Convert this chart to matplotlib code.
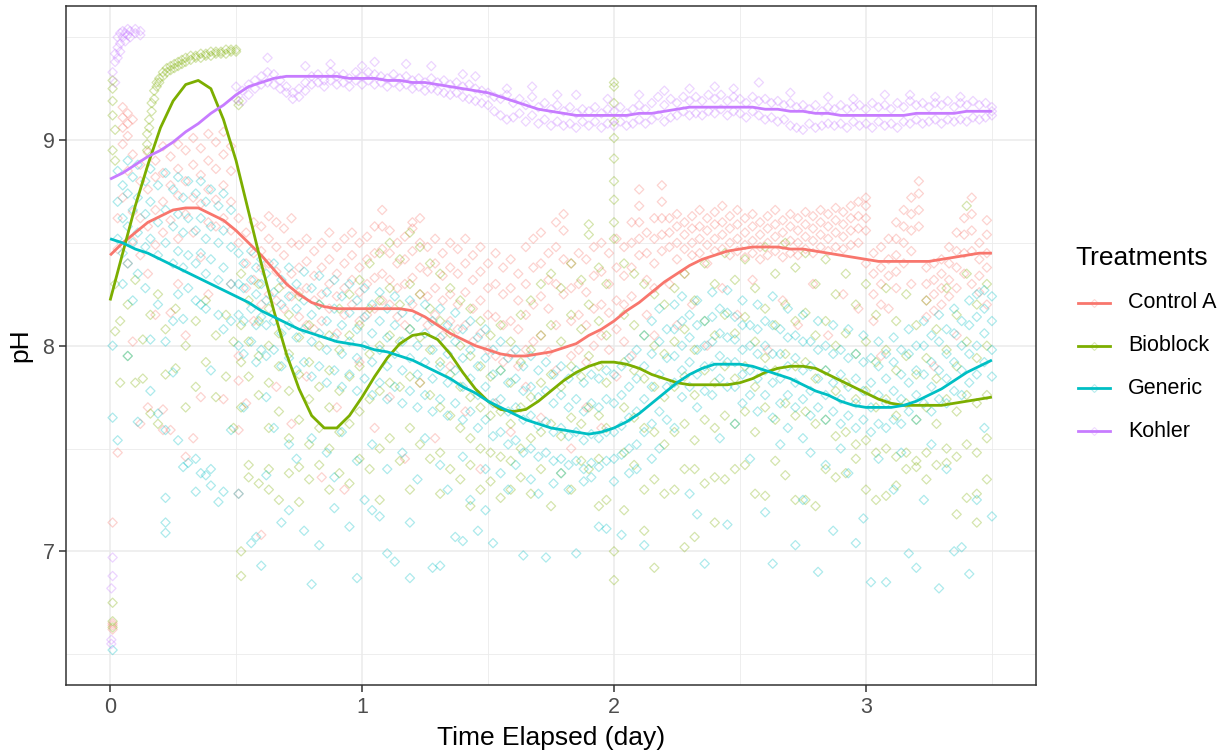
import numpy as np
import matplotlib
matplotlib.use("Agg")
import matplotlib.pyplot as plt
from matplotlib.lines import Line2D
from matplotlib.colors import to_rgba

plt.rcParams['font.family'] = ['Liberation Sans', 'DejaVu Sans']

treatments = ["Control A", "Bioblock", "Generic", "Kohler"]
colors = ["#F8766D", "#7CAE00", "#00BFC4", "#C77CFF"]

x_ticks = [0, 1, 2, 3]
y_ticks = [7, 8, 9]

# ---- raw sensor readings: (time in days, pH readings logged at that time ...) ----
ctrl_obs = [
    (0.01, 7.14, 6.62, 6.65, 6.64), (0.03, 8.62, 8.47, 7.48),
    (0.05, 9.16, 9.11, 9.06, 8.98, 8.72), (0.07, 9.13, 9.08, 9.02, 8.85, 8.40),
    (0.09, 9.10, 8.93, 8.65, 8.51, 8.02), (0.12, 8.88, 8.80, 8.62, 8.44, 7.62),
    (0.15, 8.94, 8.76, 8.58, 8.35, 7.70), (0.18, 8.90, 8.82, 8.66, 8.49, 8.15),
    (0.21, 8.97, 8.84, 8.70, 8.55, 7.69, 7.59), (0.24, 8.92, 8.78, 8.61, 8.16, 7.59),
    (0.27, 8.98, 8.86, 8.73, 8.52, 8.30), (0.30, 8.95, 8.80, 8.64, 8.05, 7.46),
    (0.33, 9.01, 8.88, 8.72, 8.55, 7.55), (0.36, 8.96, 8.83, 8.69, 8.43, 7.75),
    (0.39, 9.03, 8.90, 8.76, 8.60, 8.25), (0.42, 8.99, 8.86, 8.71, 8.58),
    (0.45, 9.04, 8.93, 8.78, 8.62, 7.74), (0.48, 8.97, 8.85, 8.70, 8.56, 8.30),
    (0.51, 8.62, 8.50, 7.95, 7.83, 7.59, 7.28), (0.54, 8.55, 8.40, 8.28, 7.72),
    (0.57, 8.60, 8.45, 8.32, 8.12), (0.60, 8.58, 8.46, 8.38, 8.20, 7.08),
    (0.63, 8.63, 8.52, 8.40, 8.25), (0.66, 8.60, 8.48, 8.36, 8.22, 7.80),
    (0.69, 8.57, 8.44, 8.30, 8.18), (0.72, 8.62, 8.50, 8.35, 8.24, 7.62),
    (0.75, 8.49, 8.38, 8.26, 8.14), (0.78, 8.52, 8.41, 8.28, 8.10, 7.85),
    (0.81, 8.46, 8.34, 8.22, 8.08), (0.84, 8.50, 8.38, 8.25, 8.12, 7.36),
    (0.87, 8.55, 8.42, 8.30, 8.18), (0.90, 8.48, 8.35, 8.24, 8.06, 7.70),
    (0.93, 8.52, 8.40, 8.28, 8.15, 7.30), (0.96, 8.55, 8.44, 8.32, 8.20),
    (0.99, 8.50, 8.38, 8.26, 8.12, 7.92), (1.02, 8.53, 8.42, 8.30, 8.15),
    (1.05, 8.58, 8.45, 8.33, 8.18, 7.60), (1.08, 8.66, 8.58, 8.47, 8.35, 8.22),
    (1.11, 8.56, 8.45, 8.32, 8.20, 7.75), (1.14, 8.50, 8.40, 8.28, 8.14),
    (1.17, 8.53, 8.42, 8.30, 8.10, 7.45), (1.20, 8.60, 8.57, 8.46, 8.33, 8.20),
    (1.23, 8.62, 8.50, 8.38, 8.25, 7.82), (1.26, 8.48, 8.36, 8.24, 8.10),
    (1.29, 8.52, 8.40, 8.28, 8.15, 7.55), (1.32, 8.45, 8.34, 8.22, 8.05),
    (1.35, 8.50, 8.38, 8.25, 8.12, 7.90), (1.38, 8.47, 8.35, 8.20, 8.08),
    (1.41, 8.52, 8.40, 8.26, 8.10, 7.68), (1.44, 8.44, 8.32, 8.18, 8.02),
    (1.47, 8.48, 8.36, 8.22, 8.06, 7.40), (1.50, 8.40, 8.28, 8.15, 7.98),
    (1.53, 8.45, 8.30, 8.14, 7.95, 7.72), (1.56, 8.38, 8.25, 8.10, 7.92),
    (1.59, 8.42, 8.28, 8.12, 7.96, 7.58), (1.62, 8.35, 8.22, 8.08, 7.90),
    (1.65, 8.48, 8.30, 8.15, 7.98, 7.80), (1.68, 8.52, 8.38, 8.20, 8.02),
    (1.71, 8.55, 8.40, 8.24, 8.05, 7.65), (1.74, 8.45, 8.32, 8.18, 7.97),
    (1.77, 8.60, 8.48, 8.30, 8.10, 7.88), (1.80, 8.64, 8.56, 8.42, 8.25),
    (1.83, 8.40, 8.28, 8.12, 7.95, 7.50), (1.86, 8.45, 8.30, 8.15, 7.98),
    (1.89, 8.42, 8.26, 8.10, 7.92, 7.70), (1.92, 8.48, 8.34, 8.18, 8.00),
    (1.95, 8.50, 8.36, 8.20, 8.05, 7.60), (1.98, 8.45, 8.30, 8.16, 7.98),
    (2.01, 8.52, 8.38, 8.22, 8.08, 7.85), (2.04, 8.48, 8.34, 8.20, 8.02),
    (2.07, 8.60, 8.50, 8.38, 8.24, 7.95), (2.10, 8.76, 8.68, 8.60, 8.52, 8.44),
    (2.13, 8.55, 8.45, 8.32, 8.15), (2.16, 8.62, 8.52, 8.40, 8.28, 8.05),
    (2.19, 8.78, 8.70, 8.62, 8.54, 8.46), (2.22, 8.62, 8.55, 8.48, 8.30),
    (2.25, 8.64, 8.58, 8.50, 8.42, 8.10), (2.28, 8.60, 8.54, 8.47, 8.35),
    (2.31, 8.63, 8.57, 8.50, 8.44, 8.20), (2.34, 8.66, 8.58, 8.52, 8.45),
    (2.37, 8.62, 8.56, 8.49, 8.40, 8.00), (2.40, 8.65, 8.59, 8.52, 8.46),
    (2.43, 8.68, 8.60, 8.54, 8.47, 8.28), (2.46, 8.63, 8.57, 8.50, 8.44),
    (2.49, 8.66, 8.59, 8.52, 8.46, 8.15), (2.52, 8.62, 8.55, 8.49, 8.43),
    (2.55, 8.64, 8.58, 8.51, 8.45, 8.32), (2.58, 8.60, 8.54, 8.48, 8.42),
    (2.61, 8.63, 8.57, 8.50, 8.44, 7.98), (2.64, 8.66, 8.59, 8.53, 8.46),
    (2.67, 8.61, 8.55, 8.49, 8.43, 8.22), (2.70, 8.64, 8.58, 8.51, 8.45),
    (2.73, 8.62, 8.56, 8.50, 8.44, 8.10), (2.76, 8.65, 8.59, 8.53, 8.47),
    (2.79, 8.63, 8.57, 8.51, 8.45, 8.30), (2.82, 8.66, 8.60, 8.54, 8.48),
    (2.85, 8.64, 8.58, 8.52, 8.46, 8.05), (2.88, 8.67, 8.61, 8.55, 8.48),
    (2.91, 8.65, 8.59, 8.53, 8.47, 8.25), (2.94, 8.68, 8.62, 8.56, 8.49),
    (2.97, 8.70, 8.63, 8.57, 8.50, 8.18), (3.00, 8.72, 8.68, 8.62, 8.56, 8.40),
    (3.03, 8.45, 8.35, 8.25, 8.12), (3.06, 8.48, 8.38, 8.30, 8.20, 7.95),
    (3.09, 8.52, 8.42, 8.34, 8.18), (3.12, 8.60, 8.52, 8.44, 8.36, 8.28),
    (3.15, 8.66, 8.58, 8.50, 8.40), (3.18, 8.72, 8.64, 8.56, 8.46, 8.30),
    (3.21, 8.80, 8.74, 8.66, 8.58), (3.24, 8.38, 8.30, 8.22, 8.14),
    (3.27, 8.40, 8.32, 8.25, 8.17, 7.90), (3.30, 8.42, 8.35, 8.28, 8.20),
    (3.33, 8.48, 8.40, 8.32, 8.24), (3.36, 8.55, 8.46, 8.38, 8.28, 8.05),
    (3.39, 8.62, 8.54, 8.45, 8.35), (3.42, 8.72, 8.64, 8.56, 8.46, 8.30),
    (3.45, 8.50, 8.42, 8.34, 8.26), (3.48, 8.61, 8.54, 8.45, 8.38, 8.20),
]

bio_obs = [
    (0.01, 6.63, 6.66, 6.75, 9.29, 9.25, 9.19, 9.12, 8.95), (0.02, 9.05, 8.90, 8.30, 8.07),
    (0.04, 8.12, 7.82), (0.07, 8.20, 7.95), (0.10, 8.32, 7.82), (0.13, 8.03, 7.84),
    (0.147, 9.03, 8.98, 8.95), (0.155, 9.10, 9.06), (0.16, 8.15, 7.67),
    (0.165, 9.18, 9.14), (0.175, 9.24, 9.20), (0.185, 9.28, 9.26), (0.19, 8.25, 7.62),
    (0.195, 9.30, 9.28), (0.21, 9.33, 9.31), (0.22, 8.08, 7.86), (0.225, 9.35, 9.33),
    (0.24, 9.36, 9.34), (0.255, 9.37, 9.35), (0.26, 8.18, 7.89), (0.27, 9.38, 9.36),
    (0.285, 9.39, 9.37), (0.30, 9.40, 9.38, 8.00, 7.70), (0.32, 9.41, 9.39),
    (0.34, 9.41, 9.40, 8.12, 7.80), (0.36, 9.42, 9.40), (0.38, 9.42, 9.41, 8.22, 7.92),
    (0.40, 9.43, 9.41), (0.42, 9.43, 9.42, 8.05, 7.75), (0.44, 9.43, 9.42),
    (0.46, 9.44, 9.42, 8.15, 7.85), (0.48, 9.44, 9.43), (0.49, 8.02, 7.60),
    (0.50, 9.44, 9.43), (0.51, 9.19, 9.17),
    (0.52, 8.35, 8.10, 7.92, 7.70, 7.00, 6.88), (0.55, 8.22, 8.02, 7.85, 7.42, 7.36),
    (0.59, 8.30, 8.12, 7.95, 7.76, 7.33), (0.63, 8.18, 8.00, 7.82, 7.60, 7.40, 7.30),
    (0.67, 8.28, 8.06, 7.90, 7.68, 7.25), (0.71, 8.15, 7.96, 7.78, 7.55, 7.38),
    (0.75, 8.24, 8.04, 7.86, 7.64, 7.41, 7.24), (0.79, 8.10, 7.92, 7.74, 7.52, 7.35),
    (0.83, 8.20, 8.00, 7.80, 7.60, 7.42), (0.87, 8.05, 7.88, 7.70, 7.50, 7.30),
    (0.91, 8.18, 7.98, 7.78, 7.58, 7.38), (0.95, 8.25, 8.05, 7.85, 7.62, 7.33),
    (0.99, 8.32, 8.10, 7.90, 7.68, 7.45), (1.03, 8.40, 8.18, 7.96, 7.74, 7.40),
    (1.07, 8.45, 8.22, 8.00, 7.78, 7.50, 7.25), (1.11, 8.50, 8.28, 8.05, 7.82, 7.55),
    (1.15, 8.42, 8.20, 8.02, 7.80, 7.44), (1.19, 8.55, 8.30, 8.08, 7.85, 7.60, 7.30),
    (1.23, 8.48, 8.25, 8.04, 7.82, 7.52), (1.27, 8.40, 8.18, 7.98, 7.76, 7.45),
    (1.31, 8.35, 8.12, 7.92, 7.70, 7.48, 7.28), (1.35, 8.28, 8.06, 7.86, 7.66, 7.40),
    (1.39, 8.22, 8.00, 7.80, 7.60, 7.35), (1.43, 8.18, 7.95, 7.75, 7.55, 7.42, 7.22),
    (1.47, 8.12, 7.90, 7.70, 7.50, 7.30), (1.51, 8.05, 7.85, 7.66, 7.48, 7.34),
    (1.55, 8.10, 7.88, 7.68, 7.46, 7.26), (1.59, 8.02, 7.82, 7.62, 7.44, 7.30),
    (1.63, 8.15, 7.92, 7.70, 7.50, 7.36), (1.67, 8.22, 7.98, 7.75, 7.55, 7.28),
    (1.71, 8.30, 8.05, 7.82, 7.58, 7.40), (1.75, 8.35, 8.10, 7.86, 7.62, 7.22),
    (1.79, 8.28, 8.02, 7.80, 7.56, 7.38), (1.83, 8.40, 8.15, 7.90, 7.65, 7.30),
    (1.87, 8.32, 8.08, 7.85, 7.62, 7.44), (1.90, 8.59, 8.54, 8.20, 7.95, 7.70, 7.40),
    (1.94, 8.38, 8.12, 7.90, 7.66, 7.45, 7.22), (1.97, 8.30, 8.05, 7.82, 7.60, 7.25),
    (2.00, 9.28, 9.26, 9.18, 9.09, 9.01, 8.91, 8.80, 8.71, 8.60, 8.52, 7.00, 6.86),
    (2.04, 8.40, 8.15, 7.92, 7.70, 7.48, 7.20), (2.08, 8.35, 8.10, 7.88, 7.65, 7.42),
    (2.12, 8.30, 8.05, 7.84, 7.60, 7.30, 7.10), (2.16, 8.25, 8.00, 7.80, 7.58, 7.35, 6.92),
    (2.20, 8.20, 7.96, 7.75, 7.52, 7.28), (2.24, 8.28, 8.02, 7.80, 7.58, 7.30),
    (2.28, 8.35, 8.08, 7.85, 7.62, 7.40, 7.02), (2.32, 8.22, 7.98, 7.76, 7.54, 7.40, 7.07),
    (2.36, 8.40, 8.12, 7.88, 7.64, 7.33), (2.40, 8.30, 8.05, 7.82, 7.60, 7.36, 7.14),
    (2.44, 8.45, 8.15, 7.90, 7.66, 7.35), (2.48, 8.32, 8.06, 7.84, 7.62, 7.40),
    (2.52, 8.42, 8.14, 7.90, 7.68, 7.42), (2.56, 8.28, 8.02, 7.80, 7.58, 7.28),
    (2.60, 8.48, 8.18, 7.94, 7.70, 7.27), (2.64, 8.35, 8.10, 7.88, 7.64, 7.44),
    (2.68, 8.50, 8.20, 7.96, 7.72, 7.37), (2.72, 8.38, 8.12, 7.90, 7.66, 7.25),
    (2.76, 8.45, 8.16, 7.92, 7.68, 7.25), (2.80, 8.30, 8.05, 7.84, 7.62, 7.22),
    (2.84, 8.42, 8.12, 7.88, 7.64, 7.40), (2.88, 8.25, 8.00, 7.78, 7.56, 7.36),
    (2.92, 8.35, 8.06, 7.82, 7.58, 7.38), (2.96, 8.20, 7.96, 7.74, 7.52, 7.45),
    (3.00, 8.30, 8.02, 7.78, 7.54, 7.30), (3.04, 8.15, 7.92, 7.70, 7.48, 7.25),
    (3.08, 8.28, 7.98, 7.74, 7.50, 7.27), (3.12, 8.12, 7.88, 7.66, 7.46, 7.32),
    (3.16, 8.25, 7.95, 7.72, 7.48, 7.40), (3.20, 8.10, 7.86, 7.64, 7.44, 7.41),
    (3.24, 8.22, 7.94, 7.70, 7.48, 7.35), (3.28, 8.08, 7.84, 7.62, 7.42),
    (3.32, 8.28, 7.98, 7.74, 7.50, 7.43), (3.36, 8.15, 7.90, 7.68, 7.46, 7.18),
    (3.40, 8.68, 8.35, 8.02, 7.76, 7.52, 7.26), (3.44, 8.20, 7.94, 7.72, 7.48, 7.28, 7.14),
    (3.48, 8.30, 8.00, 7.76, 7.55, 7.35),
]

gen_obs = [
    (0.01, 6.52, 8.00, 7.65), (0.03, 8.85, 8.70, 8.52, 7.54),
    (0.05, 8.78, 8.62, 8.45, 8.30), (0.07, 8.90, 8.74, 8.58, 8.40, 7.95),
    (0.09, 8.82, 8.66, 8.50, 8.22), (0.11, 8.88, 8.72, 8.55, 8.35, 7.63),
    (0.14, 8.80, 8.64, 8.48, 8.28), (0.16, 8.86, 8.70, 8.52, 8.03, 7.78),
    (0.19, 8.78, 8.60, 8.44, 8.20, 7.67), (0.22, 8.84, 8.66, 8.50, 8.02, 7.59, 7.26, 7.14, 7.09),
    (0.25, 8.76, 8.58, 8.40, 8.12, 7.87), (0.27, 8.82, 8.64, 8.46, 8.25, 7.54),
    (0.29, 8.72, 8.55, 8.38, 8.13, 7.41), (0.31, 8.80, 8.62, 8.44, 8.28, 7.43),
    (0.34, 8.74, 8.56, 8.40, 8.22, 7.45, 7.29), (0.36, 8.80, 8.62, 8.45, 8.20, 7.38),
    (0.38, 8.70, 8.52, 8.35, 8.18, 7.37), (0.40, 8.76, 8.58, 8.42, 7.88, 7.40, 7.32),
    (0.43, 8.68, 8.50, 8.32, 8.15, 7.24), (0.45, 8.74, 8.56, 8.38, 8.08, 7.29),
    (0.48, 8.66, 8.48, 8.30, 8.12, 7.59), (0.51, 8.45, 8.30, 8.15, 8.00, 7.28),
    (0.53, 8.40, 8.28, 8.12, 7.96, 7.70), (0.56, 8.46, 8.32, 8.18, 8.02, 7.04),
    (0.58, 8.38, 8.25, 8.10, 7.92, 7.07), (0.60, 8.42, 8.30, 8.14, 7.98, 6.93),
    (0.62, 8.35, 8.22, 8.10, 7.95, 7.75, 7.37), (0.65, 8.40, 8.26, 8.12, 7.98, 7.60),
    (0.68, 8.32, 8.20, 8.06, 7.90, 7.14), (0.71, 8.38, 8.24, 8.10, 7.94, 7.52, 7.20),
    (0.74, 8.30, 8.18, 8.04, 7.88, 7.45), (0.77, 8.36, 8.22, 8.08, 7.92, 7.10),
    (0.80, 8.28, 8.15, 8.02, 7.85, 7.55, 6.84), (0.83, 8.34, 8.20, 8.06, 7.90, 7.03),
    (0.86, 8.26, 8.12, 7.98, 7.82, 7.48), (0.89, 8.32, 8.18, 8.04, 7.88, 7.36, 7.21),
    (0.92, 8.24, 8.10, 7.96, 7.80, 7.58), (0.95, 8.30, 8.16, 8.02, 7.86, 7.12),
    (0.98, 8.22, 8.08, 7.94, 7.78, 7.44, 6.87), (1.01, 8.28, 8.14, 8.00, 7.84, 7.25),
    (1.04, 8.20, 8.06, 7.92, 7.76, 7.52, 7.20), (1.07, 8.26, 8.12, 7.98, 7.82, 7.17),
    (1.10, 8.18, 8.04, 7.90, 7.74, 7.40, 6.99), (1.13, 8.24, 8.10, 7.96, 7.80, 6.95),
    (1.16, 8.16, 8.02, 7.88, 7.72, 7.48), (1.19, 8.22, 8.08, 7.94, 7.78, 7.14, 6.87),
    (1.22, 8.14, 8.00, 7.86, 7.70, 7.35), (1.25, 8.20, 8.06, 7.92, 7.76, 7.55),
    (1.28, 8.12, 7.98, 7.84, 7.68, 6.92), (1.31, 8.18, 8.04, 7.90, 7.74, 7.42, 6.93),
    (1.34, 8.10, 7.96, 7.82, 7.66, 7.30), (1.37, 8.16, 8.02, 7.88, 7.72, 7.07),
    (1.40, 8.08, 7.94, 7.80, 7.64, 7.46, 7.05), (1.43, 8.12, 7.98, 7.84, 7.68, 7.25),
    (1.46, 8.04, 7.90, 7.76, 7.60, 7.10), (1.49, 8.08, 7.94, 7.80, 7.64, 7.40, 7.20),
    (1.52, 7.98, 7.86, 7.72, 7.56, 7.04), (1.55, 8.02, 7.88, 7.74, 7.58, 7.38),
    (1.58, 7.94, 7.82, 7.68, 7.52, 7.30), (1.61, 7.98, 7.84, 7.70, 7.54, 7.42),
    (1.64, 7.90, 7.78, 7.64, 7.48, 6.98), (1.67, 7.95, 7.80, 7.66, 7.50, 7.35),
    (1.70, 7.88, 7.75, 7.61, 7.46, 7.28), (1.73, 7.92, 7.78, 7.63, 7.48, 6.97),
    (1.76, 7.86, 7.72, 7.58, 7.44, 7.33), (1.79, 7.90, 7.76, 7.60, 7.45, 7.38),
    (1.82, 7.84, 7.70, 7.56, 7.42, 7.30), (1.85, 7.88, 7.74, 7.58, 7.44, 6.99),
    (1.88, 7.82, 7.68, 7.54, 7.40, 7.34), (1.91, 7.86, 7.72, 7.57, 7.43, 7.36),
    (1.94, 7.84, 7.70, 7.55, 7.41, 7.12), (1.97, 7.88, 7.74, 7.58, 7.44, 7.11),
    (2.00, 7.86, 7.72, 7.58, 7.45, 7.34), (2.03, 7.90, 7.76, 7.61, 7.47, 7.08),
    (2.06, 7.94, 7.80, 7.65, 7.50, 7.38), (2.09, 7.98, 7.84, 7.68, 7.52, 7.40),
    (2.12, 8.05, 7.90, 7.74, 7.58, 7.03), (2.15, 8.12, 7.96, 7.80, 7.62, 7.45),
    (2.18, 8.18, 8.02, 7.86, 7.68, 7.50), (2.21, 8.08, 7.94, 7.80, 7.64),
    (2.24, 8.20, 8.08, 7.95, 7.82, 7.60), (2.27, 8.24, 8.12, 8.00, 7.88, 7.75),
    (2.30, 8.15, 8.04, 7.92, 7.80, 7.28), (2.33, 8.22, 8.10, 7.98, 7.86, 7.70, 7.18),
    (2.36, 8.12, 8.00, 7.90, 7.78, 6.94), (2.39, 8.26, 8.14, 8.02, 7.90, 7.76),
    (2.42, 8.18, 8.06, 7.95, 7.84, 7.55), (2.45, 8.27, 8.16, 8.04, 7.92, 7.80, 7.13),
    (2.48, 8.14, 8.03, 7.92, 7.80, 7.62), (2.51, 8.22, 8.10, 7.98, 7.86, 7.72),
    (2.54, 8.10, 8.00, 7.88, 7.76, 7.45), (2.57, 8.20, 8.08, 7.96, 7.84, 7.68),
    (2.60, 8.12, 8.00, 7.88, 7.76, 7.19), (2.63, 8.24, 8.10, 7.96, 7.82, 7.65, 6.94),
    (2.66, 8.08, 7.96, 7.84, 7.72, 7.52), (2.69, 8.18, 8.04, 7.90, 7.76, 7.60),
    (2.72, 8.05, 7.94, 7.82, 7.70, 7.03), (2.75, 8.15, 8.02, 7.88, 7.74, 7.55, 7.25),
    (2.78, 8.02, 7.90, 7.78, 7.66, 7.48), (2.81, 8.12, 7.98, 7.84, 7.70, 6.90),
    (2.84, 8.00, 7.88, 7.76, 7.64, 7.42), (2.87, 8.10, 7.96, 7.82, 7.68, 7.10),
    (2.90, 7.98, 7.86, 7.74, 7.62, 7.50), (2.93, 8.08, 7.94, 7.80, 7.66, 7.38),
    (2.96, 7.96, 7.84, 7.72, 7.60, 7.04), (2.99, 8.05, 7.92, 7.78, 7.64, 7.16),
    (3.02, 7.94, 7.82, 7.70, 7.58, 6.85), (3.05, 8.02, 7.90, 7.76, 7.62, 7.45),
    (3.08, 7.96, 7.84, 7.72, 7.60, 6.85), (3.11, 8.04, 7.92, 7.78, 7.64, 7.30),
    (3.14, 7.98, 7.86, 7.74, 7.62, 7.48), (3.17, 8.08, 7.96, 7.82, 7.68, 6.99),
    (3.20, 8.00, 7.88, 7.76, 7.64, 6.92), (3.23, 8.12, 8.00, 7.86, 7.72, 7.25),
    (3.26, 8.05, 7.92, 7.80, 7.68, 7.52), (3.29, 8.15, 8.02, 7.88, 7.74, 6.82),
    (3.32, 8.08, 7.96, 7.84, 7.72, 7.40), (3.35, 8.18, 8.06, 7.92, 7.78, 7.00),
    (3.38, 8.12, 8.00, 7.88, 7.76, 7.02), (3.41, 8.22, 8.10, 7.96, 7.82, 6.89),
    (3.44, 8.25, 8.14, 8.00, 7.86, 7.25), (3.47, 8.27, 8.18, 8.06, 7.92, 7.60),
    (3.50, 8.24, 8.12, 7.98, 7.85, 7.17),
]

kohler_obs = [
    (0.005, 6.55, 6.57, 6.82), (0.010, 6.88, 6.97, 9.33), (0.02, 9.38, 9.42, 9.28),
    (0.03, 9.45, 9.50, 9.40), (0.04, 9.52, 9.47, 9.43), (0.05, 9.50, 9.53),
    (0.06, 9.48, 9.52), (0.07, 9.51, 9.54), (0.08, 9.50, 9.53), (0.10, 9.52, 9.54),
    (0.12, 9.53, 9.51),
    (0.500, 9.26, 9.20), (0.525, 9.24, 9.19), (0.550, 9.27, 9.22), (0.575, 9.29, 9.25),
    (0.600, 9.31, 9.27), (0.625, 9.33, 9.28, 9.40), (0.650, 9.32, 9.27), (0.675, 9.29, 9.25),
    (0.700, 9.26, 9.23), (0.725, 9.23, 9.20), (0.750, 9.25, 9.21), (0.775, 9.28, 9.24, 9.36),
    (0.800, 9.31, 9.27), (0.825, 9.32, 9.28), (0.850, 9.29, 9.26), (0.875, 9.33, 9.29, 9.37),
    (0.900, 9.31, 9.27), (0.925, 9.32, 9.28), (0.950, 9.30, 9.26), (0.975, 9.33, 9.29),
    (1.000, 9.31, 9.27, 9.36), (1.025, 9.33, 9.29), (1.050, 9.32, 9.27, 9.38), (1.075, 9.31, 9.28),
    (1.100, 9.30, 9.26), (1.125, 9.32, 9.28), (1.150, 9.30, 9.26), (1.175, 9.31, 9.27, 9.37),
    (1.200, 9.29, 9.25), (1.225, 9.30, 9.26), (1.250, 9.28, 9.24), (1.275, 9.30, 9.25, 9.36),
    (1.300, 9.28, 9.24), (1.325, 9.29, 9.23), (1.350, 9.27, 9.22), (1.375, 9.28, 9.23),
    (1.400, 9.26, 9.21, 9.32), (1.425, 9.27, 9.20), (1.450, 9.25, 9.19, 9.31), (1.475, 9.24, 9.18),
    (1.500, 9.23, 9.17), (1.525, 9.21, 9.14), (1.550, 9.20, 9.12), (1.575, 9.22, 9.10, 9.25),
    (1.600, 9.18, 9.11), (1.625, 9.20, 9.13), (1.650, 9.17, 9.09), (1.675, 9.21, 9.12, 9.26),
    (1.700, 9.16, 9.08), (1.725, 9.18, 9.10), (1.750, 9.15, 9.07), (1.775, 9.17, 9.09, 9.22),
    (1.800, 9.14, 9.07), (1.825, 9.16, 9.08), (1.850, 9.13, 9.06, 9.22), (1.875, 9.15, 9.09),
    (1.900, 9.14, 9.07), (1.925, 9.16, 9.09), (1.950, 9.13, 9.06), (1.975, 9.15, 9.08, 9.20),
    (2.000, 9.14, 9.07), (2.025, 9.16, 9.09), (2.050, 9.13, 9.07), (2.075, 9.15, 9.08),
    (2.100, 9.17, 9.10, 9.22), (2.125, 9.15, 9.08), (2.150, 9.18, 9.10), (2.175, 9.21, 9.12),
    (2.200, 9.17, 9.09, 9.24), (2.225, 9.20, 9.11), (2.250, 9.18, 9.12), (2.275, 9.21, 9.14),
    (2.300, 9.19, 9.12, 9.25), (2.325, 9.21, 9.13), (2.350, 9.19, 9.12), (2.375, 9.22, 9.14),
    (2.400, 9.20, 9.13, 9.26), (2.425, 9.22, 9.15), (2.450, 9.19, 9.12), (2.475, 9.21, 9.14, 9.25),
    (2.500, 9.20, 9.13), (2.525, 9.18, 9.11), (2.550, 9.21, 9.14), (2.575, 9.19, 9.12, 9.28),
    (2.600, 9.20, 9.10), (2.625, 9.18, 9.11), (2.650, 9.19, 9.09), (2.675, 9.17, 9.10),
    (2.700, 9.18, 9.07, 9.23), (2.725, 9.16, 9.06), (2.750, 9.17, 9.05), (2.775, 9.15, 9.08),
    (2.800, 9.17, 9.06), (2.825, 9.14, 9.07), (2.850, 9.16, 9.08, 9.21), (2.875, 9.15, 9.07),
    (2.900, 9.17, 9.08), (2.925, 9.15, 9.06), (2.950, 9.16, 9.09, 9.20), (2.975, 9.17, 9.07),
    (3.000, 9.15, 9.08), (3.025, 9.18, 9.06), (3.050, 9.16, 9.09), (3.075, 9.17, 9.07, 9.22),
    (3.100, 9.15, 9.08), (3.125, 9.18, 9.06), (3.150, 9.16, 9.09), (3.175, 9.19, 9.08, 9.22),
    (3.200, 9.17, 9.10), (3.225, 9.18, 9.08), (3.250, 9.16, 9.09), (3.275, 9.18, 9.10, 9.21),
    (3.300, 9.17, 9.08), (3.325, 9.19, 9.10), (3.350, 9.16, 9.09), (3.375, 9.18, 9.10, 9.21),
    (3.400, 9.17, 9.09), (3.425, 9.19, 9.11), (3.450, 9.17, 9.10), (3.475, 9.18, 9.11),
    (3.500, 9.16, 9.12, 9.14),
]

# ---- fitted loess curves, evaluated every 0.05 day from 0 to 3.5 ----
smooth_t = np.linspace(0.0, 3.5, 71)

ctrl_fit = [8.44, 8.50, 8.55, 8.60, 8.63, 8.66, 8.67, 8.67, 8.64, 8.61,
            8.56, 8.50, 8.44, 8.37, 8.30, 8.25, 8.21, 8.19, 8.18, 8.18,
            8.18, 8.18, 8.18, 8.18, 8.17, 8.14, 8.10, 8.06, 8.03, 8.00,
            7.98, 7.96, 7.95, 7.95, 7.96, 7.97, 7.99, 8.01, 8.05, 8.08,
            8.12, 8.17, 8.21, 8.26, 8.31, 8.35, 8.39, 8.42, 8.44, 8.46,
            8.47, 8.48, 8.48, 8.48, 8.47, 8.47, 8.46, 8.45, 8.44, 8.43,
            8.42, 8.41, 8.41, 8.41, 8.41, 8.41, 8.42, 8.43, 8.44, 8.45, 8.45]

bio_fit = [8.22, 8.45, 8.68, 8.88, 9.06, 9.19, 9.27, 9.29, 9.25, 9.10,
           8.90, 8.65, 8.40, 8.17, 7.96, 7.79, 7.66, 7.60, 7.60, 7.66,
           7.75, 7.85, 7.94, 8.01, 8.05, 8.06, 8.03, 7.96, 7.87, 7.79,
           7.73, 7.69, 7.68, 7.69, 7.73, 7.78, 7.83, 7.87, 7.90, 7.92,
           7.92, 7.91, 7.89, 7.86, 7.84, 7.82, 7.81, 7.81, 7.81, 7.81,
           7.82, 7.84, 7.87, 7.89, 7.90, 7.90, 7.89, 7.86, 7.83, 7.80,
           7.77, 7.74, 7.72, 7.71, 7.71, 7.71, 7.71, 7.72, 7.73, 7.74, 7.75]

gen_fit = [8.52, 8.50, 8.47, 8.45, 8.42, 8.39, 8.36, 8.33, 8.30, 8.27,
           8.24, 8.21, 8.17, 8.14, 8.11, 8.08, 8.06, 8.04, 8.02, 8.01,
           8.00, 7.98, 7.97, 7.95, 7.93, 7.90, 7.87, 7.84, 7.80, 7.77,
           7.73, 7.70, 7.67, 7.64, 7.62, 7.60, 7.59, 7.58, 7.57, 7.58,
           7.60, 7.63, 7.67, 7.72, 7.77, 7.82, 7.86, 7.89, 7.91, 7.91,
           7.91, 7.90, 7.88, 7.86, 7.84, 7.81, 7.78, 7.76, 7.73, 7.71,
           7.70, 7.70, 7.70, 7.71, 7.73, 7.76, 7.79, 7.83, 7.87, 7.90, 7.93]

kohler_fit = [8.81, 8.84, 8.88, 8.92, 8.95, 8.99, 9.04, 9.08, 9.13, 9.17,
              9.22, 9.26, 9.28, 9.30, 9.31, 9.31, 9.31, 9.31, 9.31, 9.30,
              9.30, 9.30, 9.29, 9.29, 9.28, 9.28, 9.27, 9.26, 9.25, 9.24,
              9.23, 9.21, 9.19, 9.17, 9.15, 9.14, 9.13, 9.12, 9.12, 9.12,
              9.12, 9.12, 9.13, 9.13, 9.14, 9.15, 9.16, 9.16, 9.16, 9.16,
              9.16, 9.16, 9.15, 9.15, 9.14, 9.14, 9.13, 9.13, 9.12, 9.12,
              9.12, 9.12, 9.12, 9.12, 9.13, 9.13, 9.13, 9.13, 9.14, 9.14, 9.14]

observations = [ctrl_obs, bio_obs, gen_obs, kohler_obs]
fits = [ctrl_fit, bio_fit, gen_fit, kohler_fit]


def expand(rows):
    t, ph = [], []
    for row in rows:
        for v in row[1:]:
            t.append(row[0])
            ph.append(v)
    return np.array(t), np.array(ph)


W, H = 1225, 755
fig = plt.figure(figsize=(W / 100, H / 100), dpi=100)
ax = fig.add_axes([66 / W, 70 / H, 970 / W, 679 / H])

# points first, then the smoothed curves on top
for rows, col in zip(observations, colors):
    t, ph = expand(rows)
    ax.scatter(t, ph, marker='D', s=22, facecolors='none',
               edgecolors=to_rgba(col, 0.32), linewidths=0.9, zorder=2)

for fit, col in zip(fits, colors):
    ax.plot(smooth_t, fit, color=col, lw=2.0, solid_capstyle='butt', zorder=3)

ax.set_xlim(-0.175, 3.675)
ax.set_ylim(6.35, 9.652)
ax.set_xticks(x_ticks)
ax.set_xticks([0.5, 1.5, 2.5, 3.5], minor=True)
ax.set_yticks(y_ticks)
ax.set_yticks([6.5, 7.5, 8.5, 9.5], minor=True)
ax.set_xticklabels([str(v) for v in x_ticks])
ax.set_yticklabels([str(v) for v in y_ticks])

ax.grid(which='major', color='#EBEBEB', lw=1.1, zorder=0)
ax.grid(which='minor', color='#EBEBEB', lw=0.6, zorder=0)
ax.set_axisbelow(True)
for sp in ax.spines.values():
    sp.set_color('#333333')
    sp.set_linewidth(1.1)
ax.tick_params(which='major', length=4.7, width=1.1, color='#333333',
               labelcolor='#4D4D4D', labelsize=15.5, pad=3.6)
ax.tick_params(which='minor', length=0)

ax.set_xlabel("Time Elapsed (day)", fontsize=19, color='black', labelpad=6)
ax.set_ylabel("pH", fontsize=19, color='black', labelpad=7)

# legend
fig.text(1075 / W, 1 - 258 / H, "Treatments", fontsize=19, va='center', ha='left')
for i, (name, col) in enumerate(zip(treatments, colors)):
    yc = 1 - (303 + 42.7 * i) / H
    fig.add_artist(Line2D([1078 / W, 1110 / W], [yc, yc], transform=fig.transFigure,
                          color=col, lw=2.0))
    fig.add_artist(Line2D([1094 / W], [yc], transform=fig.transFigure, marker='D',
                          ms=4, mfc='none', mec=to_rgba(col, 0.28), mew=0.8, lw=0))
    fig.text(1128 / W, yc, name, fontsize=15.5, va='center', ha='left')

fig.savefig("out.png", dpi=100)
